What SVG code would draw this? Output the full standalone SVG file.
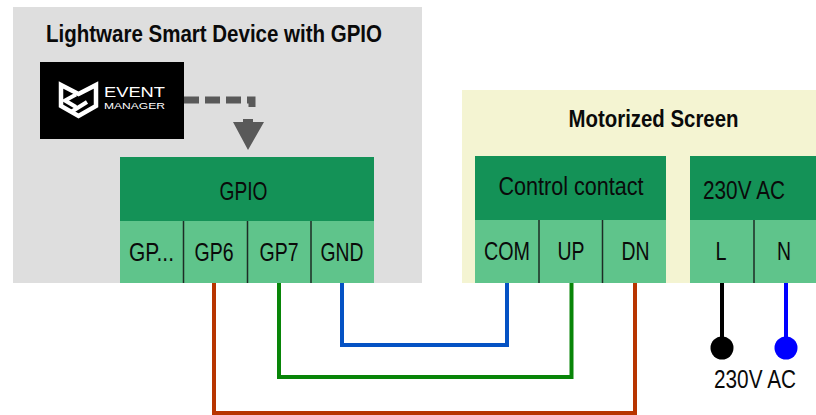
<svg xmlns="http://www.w3.org/2000/svg" width="816" height="415" viewBox="0 0 816 415">
<style>
text{font-family:"Liberation Sans",Arial,sans-serif;fill:#0a0a0a;text-anchor:middle;font-size:25px}
.t{font-weight:bold;font-size:24px}
.l{fill:#fff}
.h{fill:#149257}.p{fill:#5fc48b}.d{stroke:#1d2b25;stroke-width:1.5;fill:none}
.w{fill:none;stroke-width:4}
</style>
<rect width="816" height="415" fill="#fff"/>
<g id="device">
<rect x="13" y="7" width="409" height="276" fill="#dedede"/>
<text class="t" x="214" y="42" textLength="336" lengthAdjust="spacingAndGlyphs">Lightware Smart Device with GPIO</text>
</g>
<g id="screen">
<rect x="462" y="90" width="354" height="193" fill="#f4f4d2"/>
<text class="t" x="653.500" y="126.500" textLength="170" lengthAdjust="spacingAndGlyphs">Motorized Screen</text>
</g>
<g id="event-manager">
<rect x="40" y="62" width="144" height="77" fill="#000"/>
<path d="M61 85 L78.500 94 L96 85 V106 L78.500 116 L61 106 Z" fill="none" stroke="#fff" stroke-width="4.500" stroke-linejoin="miter"/>
<path d="M76 94.500 L65 100.500 L76 107 M71 112 L87 102" fill="none" stroke="#fff" stroke-width="4"/>
<text class="l" x="134.500" y="97" style="font-size:15.500px" textLength="61" lengthAdjust="spacingAndGlyphs">EVENT</text>
<text class="l" x="134.500" y="109" style="font-size:9px" textLength="61" lengthAdjust="spacingAndGlyphs">MANAGER</text>
</g>
<g id="gpio">
<rect class="h" x="120" y="157" width="254" height="64"/>
<rect class="p" x="120" y="221" width="254" height="62"/>
<path class="d" d="M183.500 221V283M247.500 221V283M311 221V283"/>
<text x="243.500" y="200" textLength="48" lengthAdjust="spacingAndGlyphs">GPIO</text>
<text x="151.500" y="261" textLength="45" lengthAdjust="spacingAndGlyphs">GP...</text>
<text x="214" y="261" textLength="39" lengthAdjust="spacingAndGlyphs">GP6</text>
<text x="279" y="261" textLength="39" lengthAdjust="spacingAndGlyphs">GP7</text>
<text x="342" y="261" textLength="43" lengthAdjust="spacingAndGlyphs">GND</text>
</g>
<g id="control-contact">
<rect class="h" x="475" y="156" width="191" height="64"/>
<rect class="p" x="475" y="220" width="191" height="63"/>
<path class="d" d="M539 220V283M602.500 220V283"/>
<text x="571" y="194.500" textLength="145" lengthAdjust="spacingAndGlyphs">Control contact</text>
<text x="507" y="260" textLength="46" lengthAdjust="spacingAndGlyphs">COM</text>
<text x="571" y="260" textLength="27" lengthAdjust="spacingAndGlyphs">UP</text>
<text x="635.500" y="260" textLength="28" lengthAdjust="spacingAndGlyphs">DN</text>
</g>
<g id="ac-input">
<rect class="h" x="690" y="156" width="126" height="64"/>
<rect class="p" x="690" y="220" width="126" height="63"/>
<path class="d" d="M754 220V283"/>
<text x="744" y="198.500" textLength="82" lengthAdjust="spacingAndGlyphs">230V AC</text>
<text x="721" y="260" textLength="11" lengthAdjust="spacingAndGlyphs">L</text>
<text x="784" y="260" textLength="14" lengthAdjust="spacingAndGlyphs">N</text>
</g>
<g id="connectors">
<path d="M184 100H252V107" fill="none" stroke="#595959" stroke-width="7" stroke-dasharray="15 6"/>
<path d="M243 119H253V122H264L248 150L233 122H243Z" fill="#595959"/>
<path class="w" stroke="#b83500" d="M214 283V413H635V283"/>
<path class="w" stroke="#088508" d="M279 283V377H571.500V283"/>
<path class="w" stroke="#0552c4" d="M342 283V345H507V283"/>
<path class="w" stroke="#000" d="M722 283V348"/>
<path class="w" stroke="#0000ff" d="M786 283V348"/>
<circle cx="722" cy="348" r="11.500" fill="#000"/>
<circle cx="786" cy="348" r="11.500" fill="#0000ff"/>
</g>
<g id="ac-label"><text x="755" y="388" textLength="82" lengthAdjust="spacingAndGlyphs">230V AC</text></g>
</svg>
